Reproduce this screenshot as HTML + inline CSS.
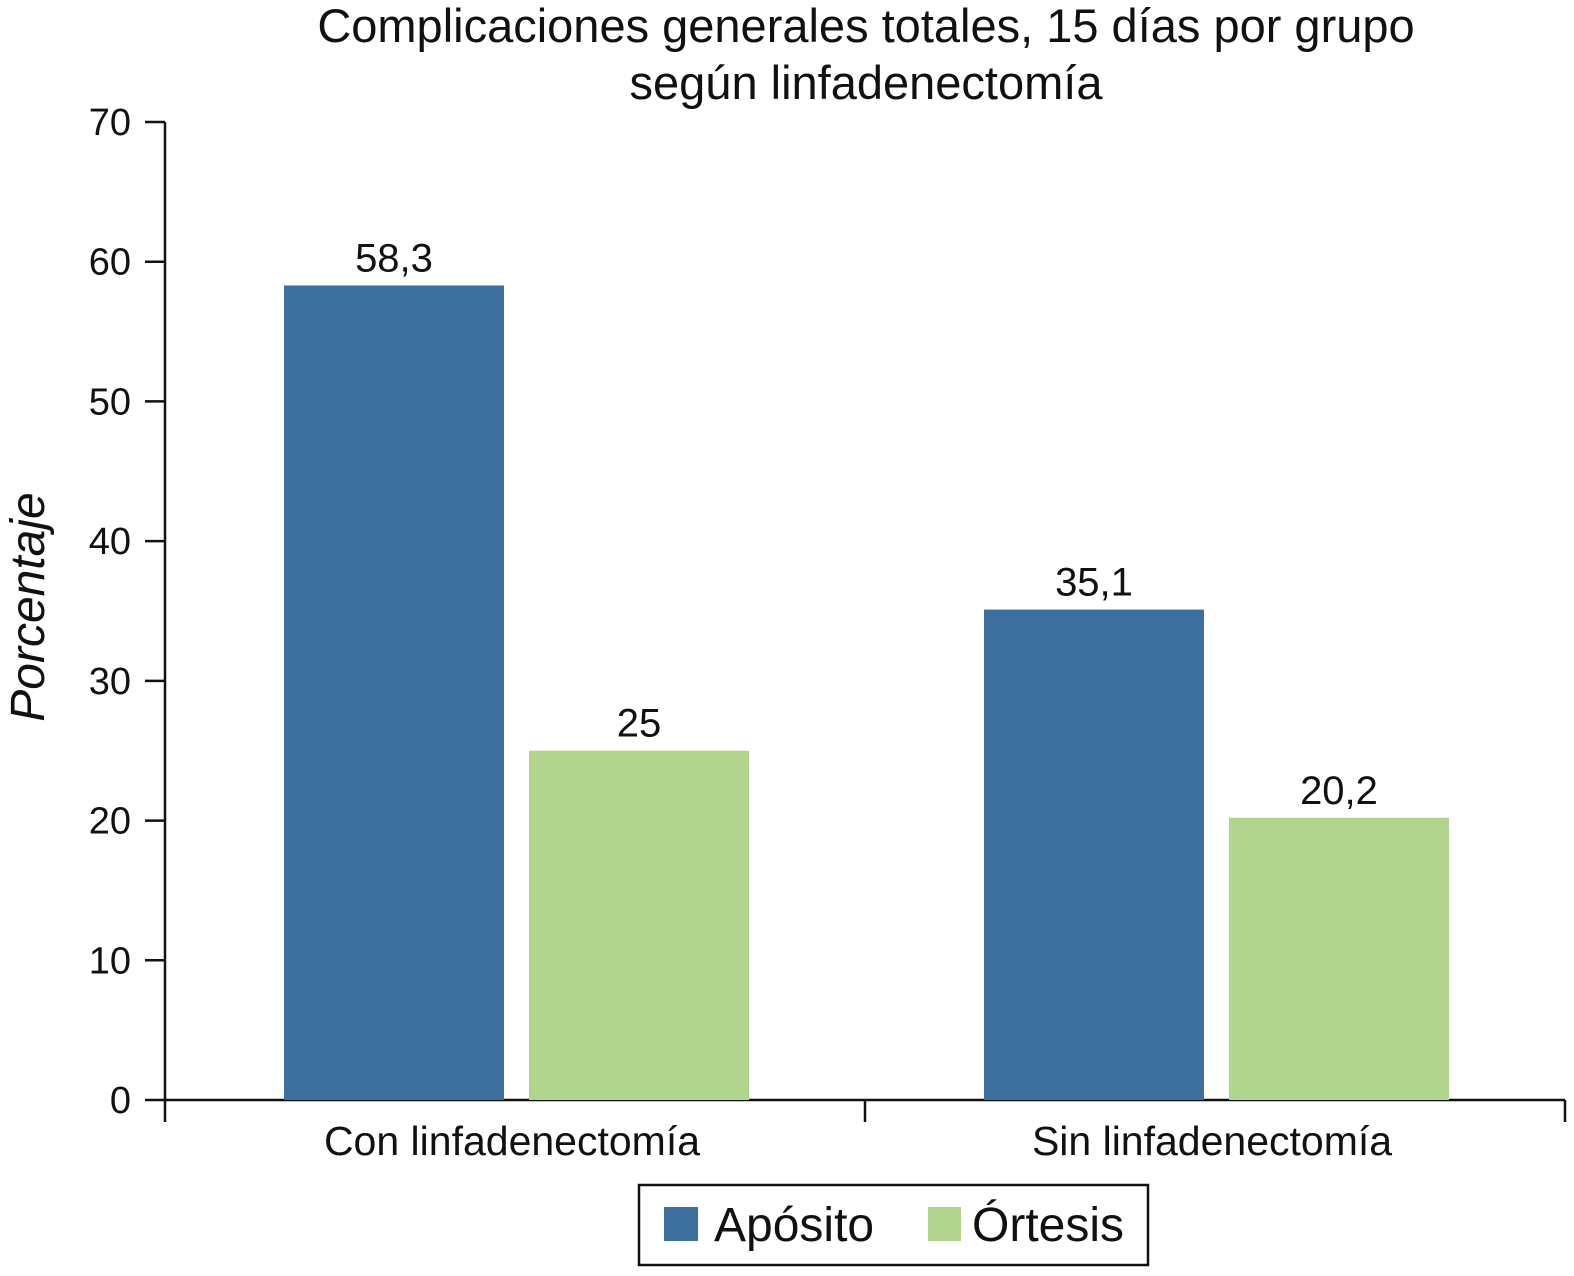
<!DOCTYPE html>
<html><head><meta charset="utf-8"><style>
body{margin:0;background:#fff;}
svg text{font-family:"Liberation Sans",Arial,sans-serif;fill:#111;}
</style></head><body>
<svg id="chart" width="1574" height="1271" xmlns="http://www.w3.org/2000/svg">
<text x="866" y="42" font-size="47" text-anchor="middle">Complicaciones generales totales, 15 días por grupo</text>
<text x="866" y="99" font-size="47" text-anchor="middle">según linfadenectomía</text>
<text transform="translate(44,607) rotate(-90)" font-size="48" font-style="italic" text-anchor="middle">Porcentaje</text>
<g id="axes"></g>
<g id="bars"></g>
<rect x="639" y="1185" width="509" height="80" fill="#fff" stroke="#111" stroke-width="2.5"/>
<rect x="664" y="1207" width="34" height="34" fill="#3d6f9e"/>
<text x="714" y="1241" font-size="48">Apósito</text>
<rect x="928" y="1207" width="33" height="34" fill="#b1d58c"/>
<text x="972" y="1241" font-size="48">Órtesis</text>
</svg>
<script>
const categories=["Con linfadenectomía","Sin linfadenectomía"];
const aposito=[58.3,35.1];
const ortesis=[25,20.2];
const valueLabelsA=["58,3","35,1"];
const valueLabelsO=["25","20,2"];
const yTicks=[0,10,20,30,40,50,60,70];
const NS="http://www.w3.org/2000/svg";
const x0=165,x1=1565,yBase=1100,yTop=122,yMax=70;
const y=v=>yBase-(v/yMax)*(yBase-yTop);
const bandW=(x1-x0)/categories.length;
const axes=document.getElementById('axes'),bars=document.getElementById('bars');
function mk(tag,attrs,parent){const e=document.createElementNS(NS,tag);for(const k in attrs)e.setAttribute(k,attrs[k]);parent.appendChild(e);return e;}
let l=mk('line',{x1:x0,y1:yTop,x2:x0,y2:yBase,stroke:'#111','stroke-width':2.5},axes);


l=mk('line',{x1:x0,y1:yBase,x2:x1,y2:yBase,stroke:'#111','stroke-width':2.5},axes);


yTicks.forEach(t=>{
 const tk=mk('line',{x1:x0-20,y1:y(t),x2:x0,y2:y(t),stroke:'#111','stroke-width':2.5},axes);
 
 
 const tx=mk('text',{x:x0-34,y:y(t)+13,'font-size':38,'text-anchor':'end'},axes);
 tx.textContent=t;
 
 
});
for(let i=0;i<=categories.length;i++){
 const tk=mk('line',{x1:x0+i*bandW,y1:yBase,x2:x0+i*bandW,y2:yBase+22,stroke:'#111','stroke-width':2.5},axes);
 
 
}
const bw=220;
categories.forEach((c,i)=>{
 const cx=x0+bandW*(i+0.5);
 const tx=mk('text',{x:cx-3,y:1155,'font-size':41,'text-anchor':'middle'},axes);
 tx.textContent=c;
 
 
 [[aposito,'#3d6f9e',valueLabelsA,-231,'aposito'],[ortesis,'#b1d58c',valueLabelsO,14,'ortesis']].forEach(([arr,col,lab,off,nm])=>{
  const bx=cx+off;
  const r=mk('rect',{x:bx,y:y(arr[i]),width:bw,height:yBase-y(arr[i]),fill:col},bars);
  
  
  const t=mk('text',{x:bx+bw/2,y:y(arr[i])-14,'font-size':40,'text-anchor':'middle'},bars);
  t.textContent=lab[i];
  
  
 });
});
</script>
</body></html>
